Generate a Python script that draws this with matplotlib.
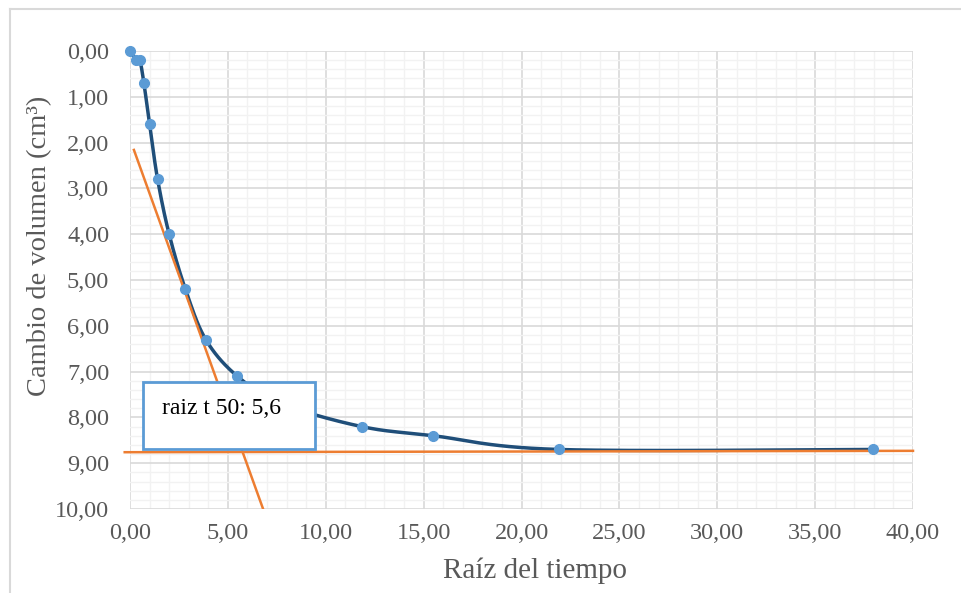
import numpy as np
import matplotlib
matplotlib.use("Agg")
import matplotlib.pyplot as plt
from matplotlib.patches import Rectangle
from matplotlib.lines import Line2D
from matplotlib.ticker import MultipleLocator, FuncFormatter

# data
raiz_t = [0, 0.32, 0.5, 0.71, 1.0, 1.41, 2.0, 2.83, 3.87, 5.48, 7.75, 11.83, 15.49, 21.91, 37.95]
cambio_vol = [0, 0.2, 0.2, 0.7, 1.6, 2.8, 4.0, 5.2, 6.3, 7.1, 7.7, 8.2, 8.4, 8.7, 8.7]
tangente_x = [0.2, 6.8]
tangente_y = [2.16, 10.0]
asintota_x = [-0.27, 40.0]
asintota_y = [8.76, 8.73]
etiqueta = "raiz t 50: 5,6"

plt.rcParams['font.family'] = ['Liberation Serif', 'DejaVu Serif']


def suavizar(x, y, n=30):
    # excel-like smoothed line (catmull-rom as bezier)
    p = np.column_stack([x, y]).astype(float)
    p = np.vstack([p[0], p, p[-1]])
    out = []
    t = np.linspace(0, 1, n)[:, None]
    for i in range(1, len(p) - 2):
        p0, p1, p2, p3 = p[i - 1], p[i], p[i + 1], p[i + 2]
        c1 = p1 + (p2 - p0) / 6
        c2 = p2 - (p3 - p1) / 6
        seg = (1 - t) ** 3 * p1 + 3 * (1 - t) ** 2 * t * c1 + 3 * (1 - t) * t ** 2 * c2 + t ** 3 * p2
        out.append(seg)
    out = np.vstack(out)
    return out[:, 0], out[:, 1]


fig = plt.figure(figsize=(9.61, 5.93), dpi=100)
ax = fig.add_axes([130 / 961, 1 - 509 / 593, 783 / 961, 458 / 593])

# chart frame remains
fig.add_artist(Line2D([10 / 961, 1], [1 - 9 / 593] * 2, color='#D9D9D9', lw=1.5))
fig.add_artist(Line2D([10 / 961] * 2, [0, 1 - 9 / 593], color='#D9D9D9', lw=1.5))

sx, sy = suavizar(raiz_t, cambio_vol)
ax.plot(sx, sy, color='#1F4E79', lw=2.5, zorder=3)
ax.plot(raiz_t, cambio_vol, 'o', color='#5B9BD5', ms=7, zorder=4, clip_on=False)

ax.plot(tangente_x, tangente_y, color='#ED7D31', lw=1.8, zorder=3)
ax.plot(asintota_x, asintota_y, color='#ED7D31', lw=1.8, zorder=3, clip_on=False)

ax.add_patch(Rectangle((0.66, 7.23), 8.79, 1.46, facecolor='white', edgecolor='#5B9BD5', lw=2, zorder=6))
ax.text(1.62, 7.8, etiqueta, fontsize=17, va='center', ha='left', color='black', zorder=7)

ax.set_xlim(0, 40)
ax.set_ylim(10, 0)
ax.xaxis.set_major_locator(MultipleLocator(5))
ax.xaxis.set_minor_locator(MultipleLocator(1))
ax.yaxis.set_major_locator(MultipleLocator(1))
ax.yaxis.set_minor_locator(MultipleLocator(0.2))
fmt = FuncFormatter(lambda v, p: f"{v:.2f}".replace('.', ','))
ax.xaxis.set_major_formatter(fmt)
ax.yaxis.set_major_formatter(fmt)

ax.grid(which='major', color='#D9D9D9', lw=1.2, zorder=0)
ax.grid(which='minor', color='#F2F2F2', lw=1.0, zorder=0)
ax.set_axisbelow(True)
for s in ax.spines.values():
    s.set_visible(False)
ax.tick_params(which='both', length=0, labelsize=17.5, labelcolor='#595959')
ax.tick_params(axis='y', pad=15)
ax.tick_params(axis='x', pad=10)

ax.set_xlabel("Raíz del tiempo", fontsize=21, color='#595959')
ax.set_ylabel("Cambio de volumen (cm³)", fontsize=20.5, color='#595959')
ax.xaxis.set_label_coords(0.517, -0.106)
ax.yaxis.set_label_coords(-0.1, 0.574)

plt.savefig("out.png", dpi=100)
